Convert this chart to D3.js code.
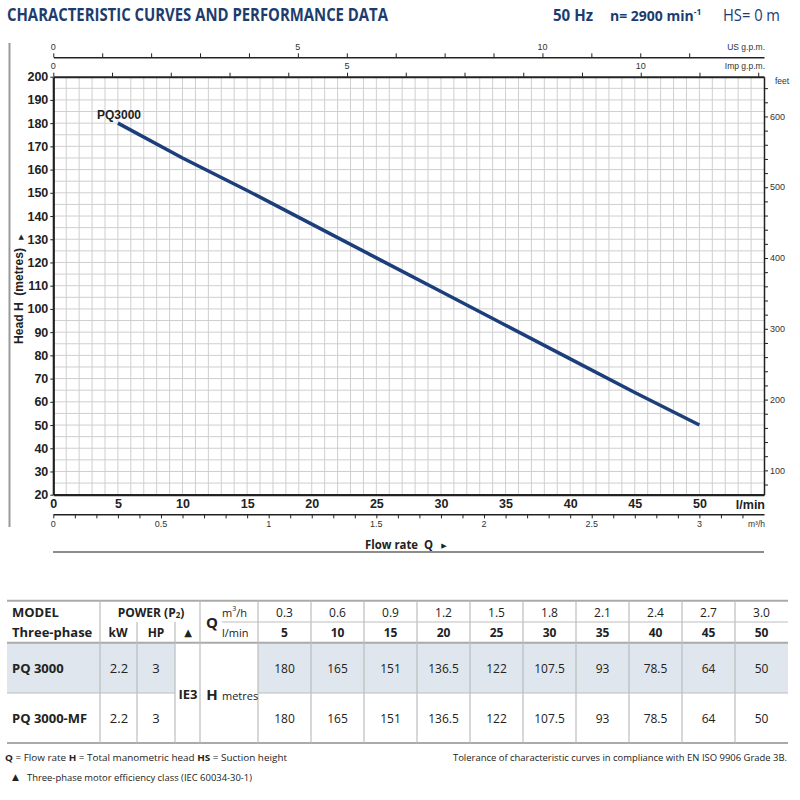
<!DOCTYPE html>
<html><head><meta charset="utf-8">
<script src="https://cdn.jsdelivr.net/npm/d3@7"></script>
<style>body{margin:0;background:#fff}svg{display:block}</style>
</head><body>
<svg id="c" width="800" height="800"></svg>
<script>
// ---- data ----
const flowLmin = [5, 10, 15, 20, 25, 30, 35, 40, 45, 50];
const flowM3h = ["0.3", "0.6", "0.9", "1.2", "1.5", "1.8", "2.1", "2.4", "2.7", "3.0"];
const headPQ3000 = [180, 165, 151, 136.5, 122, 107.5, 93, 78.5, 64, 50];
const headPQ3000MF = [180, 165, 151, 136.5, 122, 107.5, 93, 78.5, 64, 50];
const models = ["PQ 3000", "PQ 3000-MF"];
const powerKW = ["2.2", "2.2"];
const powerHP = ["3", "3"];
const headTicks = [20, 30, 40, 50, 60, 70, 80, 90, 100, 110, 120, 130, 140, 150, 160, 170, 180, 190, 200];
const flowTicks = [0, 5, 10, 15, 20, 25, 30, 35, 40, 45, 50];
const m3hTicks = [0, 0.5, 1, 1.5, 2, 2.5, 3];
const feetTicks = [100, 200, 300, 400, 500, 600];
const usTicks = [0, 5, 10];
const impTicks = [0, 5, 10];

const svg = d3.select("#c");
const BLUE = "#1d3c6e";
const AX = "Liberation Sans, Arial, sans-serif";
const TF = "Open Sans, Noto Sans, sans-serif";

// ---- scales ----
const x = d3.scaleLinear().domain([0, 55]).range([53.3, 764]);
const y = d3.scaleLinear().domain([20, 200]).range([494.7, 76.7]);
const xM3h = d3.scaleLinear().domain([0, 55 / 16.6667]).range(x.range());
const xUS = d3.scaleLinear().domain([0, 55 / 3.78541]).range(x.range());
const xImp = d3.scaleLinear().domain([0, 55 / 4.54609]).range(x.range());
const yFt = d3.scaleLinear().domain([20 * 3.28084, 200 * 3.28084]).range(y.range());

// ---- header ----
svg.append("text").attr("x", 7).attr("y", 21).attr("font-family", TF).attr("font-weight", 700)
  .attr("font-size", 18).attr("fill", BLUE).attr("textLength", 381).attr("lengthAdjust", "spacingAndGlyphs")
  .text("CHARACTERISTIC CURVES AND PERFORMANCE DATA");
svg.append("text").attr("x", 553).attr("y", 21).attr("font-family", TF).attr("font-size", 15.5)
  .attr("font-weight", 700).attr("fill", BLUE).attr("textLength", 40).attr("lengthAdjust", "spacingAndGlyphs").text("50 Hz");
const nT = svg.append("text").attr("x", 610).attr("y", 21).attr("font-family", TF).attr("font-size", 14)
  .attr("font-weight", 700).attr("fill", BLUE);
nT.append("tspan").text("n= 2900 min");
nT.append("tspan").attr("font-size", 8.5).attr("dy", -6).text("-1");
svg.append("text").attr("x", 723).attr("y", 21).attr("font-family", TF).attr("font-size", 15.5)
  .attr("font-weight", 400).attr("fill", BLUE).attr("textLength", 57).attr("lengthAdjust", "spacingAndGlyphs").text("HS= 0 m");

// left border line
svg.append("line").attr("x1", 9.5).attr("x2", 9.5).attr("y1", 43).attr("y2", 527)
  .attr("stroke", "#9a9a9a").attr("stroke-width", 2);

// ---- grid ----
const g = svg.append("g");
g.selectAll(".vg").data(d3.range(1, 55)).join("line")
  .attr("x1", d => x(d)).attr("x2", d => x(d)).attr("y1", y(200)).attr("y2", y(20))
  .attr("stroke", "#cfcfcf").attr("stroke-width", 1);
g.selectAll(".hg").data(d3.range(25, 200, 5)).join("line")
  .attr("x1", x(0)).attr("x2", x(55)).attr("y1", d => y(d)).attr("y2", d => y(d))
  .attr("stroke", "#cfcfcf").attr("stroke-width", 1);

// ---- axes ----
function styleAxis(sel) {
  sel.selectAll("path.domain").attr("stroke", "#222");
  sel.selectAll(".tick line").attr("stroke", "#222");
}
// left
const aL = svg.append("g").attr("transform", `translate(${x(0)},0)`)
  .call(d3.axisLeft(y).tickValues(headTicks).tickSize(3).tickSizeOuter(0).tickPadding(2));
aL.selectAll("text").attr("font-family", AX).attr("font-weight", 700).attr("font-size", 12.5).attr("fill", "#222");
styleAxis(aL); aL.select("path.domain").attr("stroke-width", 2.2);
// bottom l/min
const aB = svg.append("g").attr("transform", `translate(0,${y(20)})`)
  .call(d3.axisBottom(x).tickValues(flowTicks).tickSize(0).tickSizeOuter(0).tickPadding(4));
aB.selectAll("text").attr("font-family", AX).attr("font-weight", 700).attr("font-size", 12.5).attr("fill", "#222");
styleAxis(aB); aB.select("path.domain").attr("stroke-width", 2.2);
svg.append("text").attr("x", 765).attr("y", 509).attr("text-anchor", "end").attr("font-family", AX)
  .attr("font-weight", 700).attr("font-size", 12.5).attr("fill", "#222").text("l/min");
// m3/h
const aM = svg.append("g").attr("transform", "translate(0,514.3)")
  .call(d3.axisBottom(xM3h).tickValues(d3.range(0, 3.21, 0.1)).tickSize(4).tickSizeOuter(0).tickFormat(() => ""));
styleAxis(aM); aM.select("path.domain").attr("stroke-width", 1.5);
svg.append("g").selectAll("text").data(m3hTicks).join("text")
  .attr("x", d => xM3h(d)).attr("y", 527).attr("text-anchor", "middle").attr("font-family", AX)
  .attr("font-size", 9).attr("fill", "#333").text(d => d);
svg.append("text").attr("x", 765).attr("y", 527).attr("text-anchor", "end").attr("font-family", AX)
  .attr("font-size", 8.5).attr("fill", "#333").text("m³/h");
// top US gpm
const aU = svg.append("g").attr("transform", "translate(0,57.3)")
  .call(d3.axisTop(xUS).tickValues(d3.range(0, 14, 1)).tickSize(4).tickSizeOuter(0).tickFormat(() => ""));
styleAxis(aU); aU.select("path.domain").attr("stroke-width", 1.5);
svg.append("g").selectAll("text").data(usTicks).join("text")
  .attr("x", d => xUS(d)).attr("y", 50).attr("text-anchor", "middle").attr("font-family", AX)
  .attr("font-size", 9).attr("fill", "#333").text(d => d);
svg.append("text").attr("x", 765).attr("y", 50).attr("text-anchor", "end").attr("font-family", AX)
  .attr("font-size", 8.5).attr("fill", "#333").text("US g.p.m.");
// top Imp gpm (plot top)
const aI = svg.append("g").attr("transform", `translate(0,${y(200)})`)
  .call(d3.axisTop(xImp).tickValues(d3.range(0, 13, 1)).tickSize(4).tickSizeOuter(0).tickFormat(() => ""));
styleAxis(aI); aI.select("path.domain").attr("stroke-width", 2);
svg.append("g").selectAll("text").data(impTicks).join("text")
  .attr("x", d => xImp(d)).attr("y", 69).attr("text-anchor", "middle").attr("font-family", AX)
  .attr("font-size", 9).attr("fill", "#333").text(d => d);
svg.append("text").attr("x", 765).attr("y", 69).attr("text-anchor", "end").attr("font-family", AX)
  .attr("font-size", 8.5).attr("fill", "#333").text("Imp g.p.m.");
// right feet
const aR = svg.append("g").attr("transform", `translate(${x(55)},0)`)
  .call(d3.axisRight(yFt).tickValues(d3.range(80, 641, 20)).tickSize(4).tickSizeOuter(0).tickFormat(() => ""));
styleAxis(aR); aR.select("path.domain").attr("stroke-width", 1.5);
svg.append("g").selectAll("text").data(feetTicks).join("text")
  .attr("x", 770).attr("y", d => yFt(d) + 3.2).attr("font-family", AX)
  .attr("font-size", 9).attr("fill", "#333").text(d => d);
svg.append("text").attr("x", 775).attr("y", 84).attr("font-family", AX)
  .attr("font-size", 8.5).attr("fill", "#333").text("feet");

// axis titles
svg.append("text").attr("transform", "translate(23,344) rotate(-90)").attr("font-family", AX)
  .attr("font-weight", 700).attr("font-size", 12).attr("fill", "#222")
  .attr("textLength", 96).attr("lengthAdjust", "spacingAndGlyphs")
  .attr("xml:space", "preserve").text("Head H  (metres)");
svg.append("text").attr("transform", "translate(22.5,237) rotate(-90)").attr("font-family", "DejaVu Sans")
  .attr("font-size", 7).attr("fill", "#222").attr("text-anchor", "middle").text("▶");
svg.append("text").attr("x", 365).attr("y", 549).attr("font-family", TF)
  .attr("font-weight", 700).attr("font-size", 12.5).attr("fill", "#222")
  .attr("textLength", 68).attr("lengthAdjust", "spacingAndGlyphs")
  .attr("xml:space", "preserve").text("Flow rate  Q");
svg.append("text").attr("x", 444).attr("y", 547.5).attr("font-family", "DejaVu Sans")
  .attr("font-size", 7).attr("fill", "#222").attr("text-anchor", "middle").text("▶");
svg.append("line").attr("x1", 53).attr("x2", 764).attr("y1", 552).attr("y2", 552)
  .attr("stroke", "#666").attr("stroke-width", 1.5);

// ---- curve ----
const pts = flowLmin.map((q, i) => [q, headPQ3000[i]]);
svg.append("path").datum(pts).attr("fill", "none").attr("stroke", "#1c3f7c").attr("stroke-width", 3.5)
  .attr("d", d3.line().x(d => x(d[0])).y(d => y(d[1])));
svg.append("text").attr("x", 97).attr("y", 119).attr("font-family", AX).attr("font-weight", 700)
  .attr("font-size", 12).attr("fill", "#222").text("PQ3000");

// ---- table ----
const T = svg.append("g");
const colX = d3.scaleBand().domain(flowLmin).range([258, 788]);
const yTop = 600.7, yMid = 622, yH = 642.7, yR = 693, yBot = 743;
const LC = "#bdbdbd";
T.append("rect").attr("x", 7).attr("y", yH).attr("width", 175 - 7).attr("height", yR - yH).attr("fill", "#dfe6ed");
T.append("rect").attr("x", 258).attr("y", yH).attr("width", 788 - 258).attr("height", yR - yH).attr("fill", "#dfe6ed");
T.append("line").attr("x1", 7).attr("x2", 788).attr("y1", yTop).attr("y2", yTop).attr("stroke", "#aaa").attr("stroke-width", 2);
T.append("line").attr("x1", 222).attr("x2", 788).attr("y1", yMid).attr("y2", yMid).attr("stroke", LC).attr("stroke-width", 1.2);
T.append("line").attr("x1", 7).attr("x2", 788).attr("y1", yH).attr("y2", yH).attr("stroke", "#aaa").attr("stroke-width", 2);
T.append("line").attr("x1", 7).attr("x2", 175).attr("y1", yR).attr("y2", yR).attr("stroke", LC).attr("stroke-width", 1.2);
T.append("line").attr("x1", 258).attr("x2", 788).attr("y1", yR).attr("y2", yR).attr("stroke", LC).attr("stroke-width", 1.2);
T.append("line").attr("x1", 7).attr("x2", 788).attr("y1", yBot).attr("y2", yBot).attr("stroke", "#aaa").attr("stroke-width", 2);
[[100, yTop], [137, yMid], [175, yMid], [200, yTop], [258, yTop]].forEach(([vx, y0]) =>
  T.append("line").attr("x1", vx).attr("x2", vx).attr("y1", y0).attr("y2", yBot).attr("stroke", LC).attr("stroke-width", 1.2));
T.selectAll(".vc").data(flowLmin.slice(1)).join("line")
  .attr("x1", d => colX(d)).attr("x2", d => colX(d)).attr("y1", yTop).attr("y2", yBot)
  .attr("stroke", LC).attr("stroke-width", 1.2);

function tt(xp, yp, s, opt = {}) {
  return T.append("text").attr("x", xp).attr("y", yp).attr("font-family", TF)
    .attr("font-size", opt.size || 12).attr("font-weight", opt.bold ? 700 : 400)
    .attr("text-anchor", opt.anchor || "middle").attr("dominant-baseline", "central")
    .attr("fill", "#222").text(s);
}
tt(12, 612, "MODEL", { bold: true, anchor: "start", size: 13 });
tt(12, 632, "Three-phase", { bold: true, anchor: "start", size: 13 });
const pw = tt(151, 612, "POWER (P", { bold: true, size: 12 });
pw.append("tspan").attr("font-size", 8).attr("dy", 2).text("2");
pw.append("tspan").attr("dy", -2).text(")");
tt(118, 632, "kW", { bold: true });
tt(156, 632, "HP", { bold: true });
T.append("text").attr("x", 188).attr("y", 632).attr("font-family", "DejaVu Sans").attr("font-size", 10)
  .attr("text-anchor", "middle").attr("dominant-baseline", "central").attr("fill", "#222").text("▲");
tt(212, 622, "Q", { bold: true, size: 15 });
const m3 = tt(222, 612, "m", { anchor: "start", size: 11 });
m3.append("tspan").attr("font-size", 7).attr("dy", -4).text("3");
m3.append("tspan").attr("dy", 4).text("/h");
tt(222, 632, "l/min", { anchor: "start", size: 11 });
flowLmin.forEach((q, i) => {
  tt(colX(q) + colX.bandwidth() / 2, 612, flowM3h[i]);
  tt(colX(q) + colX.bandwidth() / 2, 632, q, { bold: true });
});
const rowsY = [668, 718];
const heads = [headPQ3000, headPQ3000MF];
models.forEach((m, r) => {
  tt(12, rowsY[r], m, { bold: true, anchor: "start", size: 13 });
  tt(119, rowsY[r], powerKW[r], { size: 13 });
  tt(156, rowsY[r], powerHP[r], { size: 13 });
  flowLmin.forEach((q, i) => tt(colX(q) + colX.bandwidth() / 2, rowsY[r], heads[r][i]));
});
tt(188, 694, "IE3", { bold: true, size: 13 });
tt(212, 694, "H", { bold: true, size: 15 });
tt(222, 695, "metres", { anchor: "start", size: 11 });

// ---- footer ----
const f1 = svg.append("text").attr("x", 5).attr("y", 761).attr("font-family", TF).attr("font-size", 9.5)
  .attr("fill", "#222").attr("textLength", 282).attr("lengthAdjust", "spacingAndGlyphs");
f1.append("tspan").attr("font-weight", 700).text("Q");
f1.append("tspan").text(" = Flow rate  ");
f1.append("tspan").attr("font-weight", 700).text("H");
f1.append("tspan").text(" = Total manometric head  ");
f1.append("tspan").attr("font-weight", 700).text("HS");
f1.append("tspan").text(" = Suction height");
svg.append("text").attr("x", 453).attr("y", 761).attr("font-family", TF)
  .attr("font-size", 9).attr("fill", "#222").attr("textLength", 334).attr("lengthAdjust", "spacingAndGlyphs")
  .text("Tolerance of characteristic curves in compliance with EN ISO 9906 Grade 3B.");
svg.append("text").attr("x", 12).attr("y", 780).attr("font-family", "DejaVu Sans").attr("font-size", 9)
  .attr("fill", "#222").text("▲");
svg.append("text").attr("x", 27).attr("y", 780.5).attr("font-family", TF).attr("font-size", 9.5)
  .attr("fill", "#222").attr("textLength", 225).attr("lengthAdjust", "spacingAndGlyphs")
  .text("Three-phase motor efficiency class (IEC 60034-30-1)");
</script>
</body></html>
